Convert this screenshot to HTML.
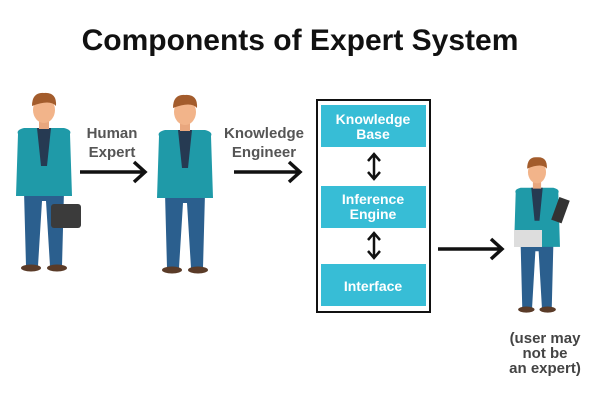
<!DOCTYPE html>
<html><head><meta charset="utf-8"><style>
body{margin:0;background:#fff;width:600px;height:400px;overflow:hidden}
svg{display:block;font-family:"Liberation Sans","DejaVu Sans",sans-serif}
</style></head><body>
<svg width="600" height="400" viewBox="0 0 600 400">
<defs>
<g id="p">
 <path d="M-20,65 L-18,140 L-6,140 L-2,75 L2,75 L6,140 L18,140 L20,65 Z" fill="#2b5f8e"/>
 <ellipse cx="-13" cy="142" rx="10" ry="3.5" fill="#5a3b28"/>
 <ellipse cx="13" cy="142" rx="10" ry="3.5" fill="#5a3b28"/>
 <path d="M-26,8 Q-28,4 -20,2 L20,2 Q28,4 26,8 L28,70 L-28,70 Z" fill="#1f9aa8"/>
 <path d="M-7,2 L7,2 L3,40 L-3,40 Z" fill="#263a52"/>
 <rect x="-5" y="-6" width="10" height="9" fill="#e9a77e"/>
 <ellipse cx="0" cy="-16" rx="11" ry="13" fill="#f2b48a"/>
 <path d="M-12,-20 Q-12,-34 0,-33 Q13,-34 12,-20 Q6,-27 -12,-20Z" fill="#a35c2c"/>
</g>
</defs>
<text x="300" y="50" text-anchor="middle" font-size="30" font-weight="bold" fill="#111">Components of Expert System</text>

<use href="#p" transform="translate(44,126)"/>
<rect x="51" y="204" width="30" height="24" rx="3" fill="#3b3b3b"/>
<use href="#p" transform="translate(185,128)"/>
<use href="#p" transform="translate(537,186) scale(0.82,0.87)"/>
<rect x="555" y="198" width="11" height="24" fill="#333" transform="rotate(20 560 210)"/>
<rect x="514" y="230" width="28" height="17" fill="#ddd"/>

<g font-size="15" font-weight="bold" fill="#555" text-anchor="middle">
<text x="112" y="138">Human</text><text x="112" y="157">Expert</text>
<text x="264" y="138">Knowledge</text><text x="264" y="157">Engineer</text>
</g>
<g stroke="#111" stroke-width="3.5" fill="none">
<path d="M80,172 H144 M134,162 L145,172 L134,182"/>
<path d="M234,172 H299 M289,162 L300,172 L289,182"/>
<path d="M438,249 H501 M491,239 L502,249 L491,259"/>
<path d="M374,155 V178 M368,161 L374,154 L380,161 M368,172 L374,179 L380,172" stroke-width="2.5"/>
<path d="M374,234 V257 M368,240 L374,233 L380,240 M368,251 L374,258 L380,251" stroke-width="2.5"/>
</g>
<rect x="317" y="100" width="113" height="212" fill="none" stroke="#111" stroke-width="2"/>
<g fill="#37bdd6">
<rect x="321" y="105" width="105" height="42"/>
<rect x="321" y="186" width="105" height="42"/>
<rect x="321" y="264" width="105" height="42"/>
</g>
<g font-size="14" font-weight="bold" fill="#fff" text-anchor="middle">
<text x="373" y="124">Knowledge</text><text x="373" y="139">Base</text>
<text x="373" y="204">Inference</text><text x="373" y="219">Engine</text>
<text x="373" y="291">Interface</text>
</g>
<g font-size="15" font-weight="bold" fill="#444" text-anchor="middle">
<text x="545" y="343">(user may</text><text x="545" y="358">not be</text><text x="545" y="373">an expert)</text>
</g>
</svg>
</body></html>
